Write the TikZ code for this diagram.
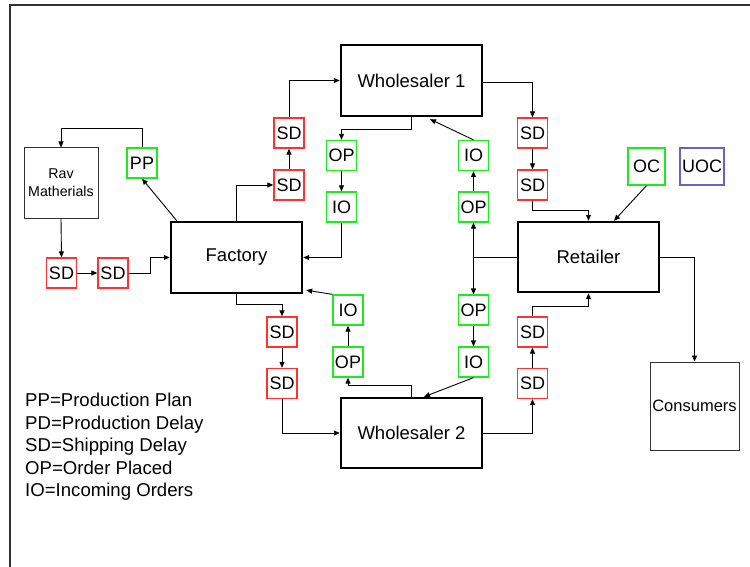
\documentclass[tikz,border=0pt]{standalone}
\usepackage{fontspec}
\setmainfont{Liberation Sans}
\usetikzlibrary{arrows.meta}
\definecolor{sdred}{RGB}{255,50,50}
\definecolor{okgreen}{RGB}{30,235,30}
\definecolor{uocblue}{RGB}{100,100,200}
\definecolor{framegray}{RGB}{50,50,50}
\tikzset{
  big/.style={draw=black,line width=2.4pt,inner sep=0pt,font=\fontsize{18.5}{22}\selectfont},
  small/.style={line width=1.3pt,inner sep=0pt,minimum width=30pt,minimum height=30pt,font=\fontsize{18}{22}\selectfont},
  sdbox/.style={small,draw=sdred},
  gbox/.style={small,draw=okgreen},
  thinbox/.style={draw=framegray,line width=1pt,inner sep=0pt,align=center},
  arr/.style={draw=black,line width=0.9pt,-{Triangle[length=6pt,width=5pt]}},
  ln/.style={draw=black,line width=0.9pt}
}
\begin{document}
\begin{tikzpicture}[x=1pt,y=-1pt]
\useasboundingbox (0,0) rectangle (750,567);
% frame
\draw[framegray,line width=1.5pt] (10,567) -- (10,5) -- (750,5);
% nodes
\node[thinbox,minimum width=74pt,minimum height=70pt,font=\fontsize{14.2}{18}\selectfont] (rav) at (61,183) {Rav\\Matherials};
\node[gbox] (pp) at (142,163) {PP};
\node[sdbox] (sdr1) at (61.5,273) {SD};
\node[sdbox] (sdr2) at (113,273) {SD};
\node[big,minimum width=131pt,minimum height=71pt] (factory) at (236.5,257.5) {Factory};
\node[sdbox] (sdf1) at (289,185) {SD};
\node[sdbox] (sdf2) at (289,133) {SD};
\node[big,minimum width=141pt,minimum height=71pt] (w1) at (411.5,80.5) {Wholesaler 1};
\node[gbox] (opw1) at (341.5,155.5) {OP};
\node[gbox] (iow1) at (341.5,207) {IO};
\node[gbox] (iow1r) at (473.5,155.5) {IO};
\node[gbox] (opw1r) at (473.5,207) {OP};
\node[sdbox] (sdw1a) at (532.5,133) {SD};
\node[sdbox] (sdw1b) at (532.5,185) {SD};
\node[big,minimum width=141pt,minimum height=70pt] (retailer) at (588.5,257) {Retailer};
\node[gbox,minimum width=37pt,minimum height=37pt] (oc) at (646.5,166.5) {OC};
\node[small,draw=uocblue,minimum width=44pt,minimum height=37pt] (uoc) at (702,166.5) {UOC};
\node[thinbox,minimum width=89pt,minimum height=88pt,font=\fontsize{16.5}{20}\selectfont] (consumers) at (694.5,406) {Consumers};
\node[gbox] (opw2r) at (473.5,310) {OP};
\node[gbox] (iow2r) at (473.5,362) {IO};
\node[big,minimum width=141pt,minimum height=70pt] (w2) at (411.5,433) {Wholesaler 2};
\node[sdbox] (sdf3) at (282,332) {SD};
\node[sdbox] (sdf4) at (282,383.5) {SD};
\node[gbox] (iof) at (348,310) {IO};
\node[gbox] (opf) at (348,362) {OP};
\node[sdbox] (sdw2a) at (532.5,332) {SD};
\node[sdbox] (sdw2b) at (532.5,383.5) {SD};
% legend
\node[anchor=north west,inner sep=0pt,align=left,font=\fontsize{18.6}{22.5}\selectfont] (legend) at (25,393)
 {PP=Production Plan\\PD=Production Delay\\SD=Shipping Delay\\OP=Order Placed\\IO=Incoming Orders};
% connectors
\draw[arr] (pp.north) -- ++(0,-19) -| (rav.north);
\draw[arr] (rav.south) -- (sdr1.north);
\draw[arr] (sdr1.east) -- (sdr2.west);
\draw[arr] (sdr2.east) -- ++(22,0) |- (factory.west);
\draw[arr] ([xshift=7pt]factory.north west) -- (pp.south);
\draw[arr] (factory.north) |- (sdf1.west);
\draw[arr] (sdf1.north) -- (sdf2.south);
\draw[arr] (sdf2.north) |- (w1.west);
\draw[arr] (w1.south) -- ++(0,12) -| (opw1.north);
\draw[arr] (opw1.south) -- (iow1.north);
\draw[arr] (iow1.south) |- (factory.east);
\draw[arr] (opw1r.north) -- (iow1r.south);
\draw[arr] (iow1r.north) -- ([xshift=18.5pt,yshift=-2pt]w1.south);
\draw[arr] ([yshift=-1.5pt]w1.east) -| (sdw1a.north);
\draw[arr] (sdw1a.south) -- (sdw1b.north);
\draw[arr] (sdw1b.south) -- ++(0,10) -| (retailer.north);
\draw[arr] (oc.south) -- ([xshift=25.5pt]retailer.north);
\coordinate (jn) at (retailer.west -| opw1r.south);
\draw[ln] (retailer.west) -- (jn);
\draw[arr] (jn) -- (opw1r.south);
\draw[arr] (jn) -- (opw2r.north);
\draw[arr] (retailer.east) -| (consumers.north);
\draw[arr] (opw2r.south) -- (iow2r.north);
\draw[arr] (iow2r.south) -- ([xshift=12.5pt]w2.north);
\draw[arr] (factory.south) -- ++(0,10) -| (sdf3.north);
\draw[arr] (sdf3.south) -- (sdf4.north);
\draw[arr] (sdf4.south) |- (w2.west);
\draw[arr] (opf.north) -- (iof.south);
\draw[arr] (iof.north west) -- ([xshift=3pt,yshift=4pt]factory.south east);
\draw[arr] (w2.north) -- ++(0,-11) -| (opf.south);
\draw[arr] (w2.east) -| (sdw2b.south);
\draw[arr] (sdw2b.north) -- (sdw2a.south);
\draw[arr] (sdw2a.north) -- ++(0,-10) -| (retailer.south);
\end{tikzpicture}
\end{document}
